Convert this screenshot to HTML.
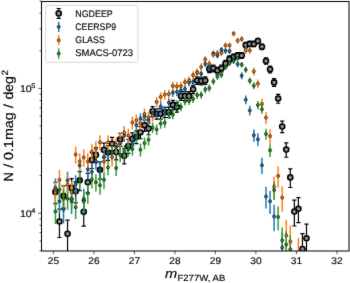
<!DOCTYPE html>
<html><head><meta charset="utf-8"><title>Number counts</title>
<style>
html,body{margin:0;padding:0;background:#fff;}
body{width:350px;height:283px;overflow:hidden;}
svg{display:block;font-family:"Liberation Sans",sans-serif;text-rendering:geometricPrecision;}
text{fill:#000;stroke:#000;stroke-width:0.15px;}
</style></head><body>
<svg width="350" height="283" viewBox="0 0 350 283">
<defs><filter id="soft" x="0" y="0" width="100%" height="100%" filterUnits="userSpaceOnUse" color-interpolation-filters="sRGB"><feConvolveMatrix order="3" kernelMatrix="0.01 0.065 0.01 0.065 0.7 0.065 0.01 0.065 0.01" edgeMode="duplicate" preserveAlpha="true"/></filter><clipPath id="ax"><rect x="41.5" y="1.5" width="307.5" height="249.5"/></clipPath></defs>
<rect x="0" y="0" width="350" height="283" fill="#fff"/>
<g filter="url(#soft)">
<rect x="-5" y="-5" width="360" height="293" fill="#fff"/>
<g clip-path="url(#ax)">
<path d="M55.4 182.26V203.64M59.45 209.15V237.52M63.5 185.92V208.13M67.55 220.14V252.1M71.6 178.58V199.17M75.65 181.61V202.85M79.7 171.56V190.73M83.75 200.31V226.13M87.8 173.41V192.94M91.85 152.66V168.5M95.9 147.87V162.98M99.95 161.81V179.17M104 143.17V157.59M108.05 145.62V160.39M112.1 137.42V151.04M116.15 145.15V159.85M120.2 133.26V146.33M124.25 148.62V163.84M128.3 139.49V153.39M132.35 132.97V146.01M136.4 130.89V143.66M140.45 126.53V138.76M144.5 119.87V131.34M148.55 122.92V134.73M152.6 106.6V116.67M156.65 108.89V119.2M160.7 108.8V119.09M164.75 107.36V117.51M168.8 107.46V117.62M172.85 100.36V109.85M176.9 102.47V112.16M180.95 91.71V100.44M185 91.71V100.44M189.05 91.71V100.44M193.1 85.35V93.56M197.15 76.94V84.52M201.2 77.23V84.83M205.25 76.94V84.52M209.3 65.8V72.61M213.35 65.02V71.79M217.4 67.26V74.16M221.45 65.02V71.79M225.5 60.36V66.83M229.55 55.89V62.09M233.6 54.14V60.23M237.65 52.58V58.59M241.7 52.48V58.48M245.75 42.34V47.79M249.8 41.27V46.67M253.85 41.27V46.67M257.9 38.44V43.69M261.95 44V49.54M266 57.93V64.25M270.05 66V72.82M274.1 78.68V86.39M278.15 94.31V103.26M282.2 121.11V132.71M286.25 142.89V157.26M290.3 168.87V187.52M294.35 200.22V226.01M298.4 197.6V222.68M302.45 233.55V270.68M306.5 224.04V257.41" stroke="#000000" stroke-width="1.2" fill="none"/>
<path d="M53.3 182.26h4.2M53.3 203.64h4.2M57.35 209.15h4.2M57.35 237.52h4.2M61.4 185.92h4.2M61.4 208.13h4.2M65.45 220.14h4.2M65.45 252.1h4.2M69.5 178.58h4.2M69.5 199.17h4.2M73.55 181.61h4.2M73.55 202.85h4.2M77.6 171.56h4.2M77.6 190.73h4.2M81.65 200.31h4.2M81.65 226.13h4.2M85.7 173.41h4.2M85.7 192.94h4.2M89.75 152.66h4.2M89.75 168.5h4.2M93.8 147.87h4.2M93.8 162.98h4.2M97.85 161.81h4.2M97.85 179.17h4.2M101.9 143.17h4.2M101.9 157.59h4.2M105.95 145.62h4.2M105.95 160.39h4.2M110 137.42h4.2M110 151.04h4.2M114.05 145.15h4.2M114.05 159.85h4.2M118.1 133.26h4.2M118.1 146.33h4.2M122.15 148.62h4.2M122.15 163.84h4.2M126.2 139.49h4.2M126.2 153.39h4.2M130.25 132.97h4.2M130.25 146.01h4.2M134.3 130.89h4.2M134.3 143.66h4.2M138.35 126.53h4.2M138.35 138.76h4.2M142.4 119.87h4.2M142.4 131.34h4.2M146.45 122.92h4.2M146.45 134.73h4.2M150.5 106.6h4.2M150.5 116.67h4.2M154.55 108.89h4.2M154.55 119.2h4.2M158.6 108.8h4.2M158.6 119.09h4.2M162.65 107.36h4.2M162.65 117.51h4.2M166.7 107.46h4.2M166.7 117.62h4.2M170.75 100.36h4.2M170.75 109.85h4.2M174.8 102.47h4.2M174.8 112.16h4.2M178.85 91.71h4.2M178.85 100.44h4.2M182.9 91.71h4.2M182.9 100.44h4.2M186.95 91.71h4.2M186.95 100.44h4.2M191 85.35h4.2M191 93.56h4.2M195.05 76.94h4.2M195.05 84.52h4.2M199.1 77.23h4.2M199.1 84.83h4.2M203.15 76.94h4.2M203.15 84.52h4.2M207.2 65.8h4.2M207.2 72.61h4.2M211.25 65.02h4.2M211.25 71.79h4.2M215.3 67.26h4.2M215.3 74.16h4.2M219.35 65.02h4.2M219.35 71.79h4.2M223.4 60.36h4.2M223.4 66.83h4.2M227.45 55.89h4.2M227.45 62.09h4.2M231.5 54.14h4.2M231.5 60.23h4.2M235.55 52.58h4.2M235.55 58.59h4.2M239.6 52.48h4.2M239.6 58.48h4.2M243.65 42.34h4.2M243.65 47.79h4.2M247.7 41.27h4.2M247.7 46.67h4.2M251.75 41.27h4.2M251.75 46.67h4.2M255.8 38.44h4.2M255.8 43.69h4.2M259.85 44h4.2M259.85 49.54h4.2M263.9 57.93h4.2M263.9 64.25h4.2M267.95 66h4.2M267.95 72.82h4.2M272 78.68h4.2M272 86.39h4.2M276.05 94.31h4.2M276.05 103.26h4.2M280.1 121.11h4.2M280.1 132.71h4.2M284.15 142.89h4.2M284.15 157.26h4.2M288.2 168.87h4.2M288.2 187.52h4.2M292.25 200.22h4.2M292.25 226.01h4.2M296.3 197.6h4.2M296.3 222.68h4.2M300.35 233.55h4.2M300.35 270.68h4.2M304.4 224.04h4.2M304.4 257.41h4.2" stroke="#000000" stroke-width="1.2" fill="none"/>
<g fill="#8e8e8e" stroke="#000" stroke-width="1.55"><circle cx="55.4" cy="191.9" r="2.55"/><circle cx="59.45" cy="221.5" r="2.55"/><circle cx="63.5" cy="195.9" r="2.55"/><circle cx="67.55" cy="233.8" r="2.55"/><circle cx="71.6" cy="187.9" r="2.55"/><circle cx="75.65" cy="191.2" r="2.55"/><circle cx="79.7" cy="180.3" r="2.55"/><circle cx="83.75" cy="211.7" r="2.55"/><circle cx="87.8" cy="182.3" r="2.55"/><circle cx="91.85" cy="160" r="2.55"/><circle cx="95.9" cy="154.9" r="2.55"/><circle cx="99.95" cy="169.8" r="2.55"/><circle cx="104" cy="149.9" r="2.55"/><circle cx="108.05" cy="152.5" r="2.55"/><circle cx="112.1" cy="143.8" r="2.55"/><circle cx="116.15" cy="152" r="2.55"/><circle cx="120.2" cy="139.4" r="2.55"/><circle cx="124.25" cy="155.7" r="2.55"/><circle cx="128.3" cy="146" r="2.55"/><circle cx="132.35" cy="139.1" r="2.55"/><circle cx="136.4" cy="136.9" r="2.55"/><circle cx="140.45" cy="132.3" r="2.55"/><circle cx="144.5" cy="125.3" r="2.55"/><circle cx="148.55" cy="128.5" r="2.55"/><circle cx="152.6" cy="111.4" r="2.55"/><circle cx="156.65" cy="113.8" r="2.55"/><circle cx="160.7" cy="113.7" r="2.55"/><circle cx="164.75" cy="112.2" r="2.55"/><circle cx="168.8" cy="112.3" r="2.55"/><circle cx="172.85" cy="104.9" r="2.55"/><circle cx="176.9" cy="107.1" r="2.55"/><circle cx="180.95" cy="95.9" r="2.55"/><circle cx="185" cy="95.9" r="2.55"/><circle cx="189.05" cy="95.9" r="2.55"/><circle cx="193.1" cy="89.3" r="2.55"/><circle cx="197.15" cy="80.6" r="2.55"/><circle cx="201.2" cy="80.9" r="2.55"/><circle cx="205.25" cy="80.6" r="2.55"/><circle cx="209.3" cy="69.1" r="2.55"/><circle cx="213.35" cy="68.3" r="2.55"/><circle cx="217.4" cy="70.6" r="2.55"/><circle cx="221.45" cy="68.3" r="2.55"/><circle cx="225.5" cy="63.5" r="2.55"/><circle cx="229.55" cy="58.9" r="2.55"/><circle cx="233.6" cy="57.1" r="2.55"/><circle cx="237.65" cy="55.5" r="2.55"/><circle cx="241.7" cy="55.4" r="2.55"/><circle cx="245.75" cy="45" r="2.55"/><circle cx="249.8" cy="43.9" r="2.55"/><circle cx="253.85" cy="43.9" r="2.55"/><circle cx="257.9" cy="41" r="2.55"/><circle cx="261.95" cy="46.7" r="2.55"/><circle cx="266" cy="61" r="2.55"/><circle cx="270.05" cy="69.3" r="2.55"/><circle cx="274.1" cy="82.4" r="2.55"/><circle cx="278.15" cy="98.6" r="2.55"/><circle cx="282.2" cy="126.6" r="2.55"/><circle cx="286.25" cy="149.6" r="2.55"/><circle cx="290.3" cy="177.4" r="2.55"/><circle cx="294.35" cy="211.6" r="2.55"/><circle cx="298.4" cy="208.7" r="2.55"/><circle cx="302.45" cy="249" r="2.55"/><circle cx="306.5" cy="238.2" r="2.55"/></g>
<path d="M55.4 178.56V198.71M59.45 191.04V213.96M63.5 198.61V223.41M67.55 171.71V190.51M71.6 191.04V213.96M75.65 175.14V194.6M79.7 157.94V174.29M83.75 188.76V211.14M87.8 161.49V178.43M91.85 163.82V181.17M95.9 153.82V169.51M99.95 161.67V178.65M104 149.78V164.86M108.05 145.83V160.33M112.1 145.65V160.12M116.15 140.84V154.64M120.2 137.25V150.57M124.25 129.67V142.03M128.3 142.54V156.57M132.35 137.15V150.46M136.4 119.78V131M140.45 113.57V124.14M144.5 111.66V122.03M148.55 114.91V125.62M152.6 108.22V118.25M156.65 108.22V118.25M160.7 101.98V111.43M164.75 106.3V116.15M168.8 98.24V107.35M172.85 88.61V96.91M176.9 87.74V95.97M180.95 86.39V94.52M185 85.04V93.06M189.05 78.95V86.52M193.1 78.27V85.79M197.15 69.16V76.06M201.2 70.42V77.4M205.25 60.71V67.07M209.3 64.41V70.99M213.35 50.59V56.37M217.4 52.54V58.42M221.45 46.98V52.56M225.5 48.05V53.69M229.55 48.25V53.9M233.6 56.04V62.13M237.65 60.91V67.28M241.7 72.27V79.37M245.75 95.45V104.32M249.8 105.72V115.52M253.85 129.48V141.82M257.9 133.27V146.08M261.95 157.75V174.07M266 186.65V208.55M270.05 191.04V213.96M274.1 204.76V231.23M282.2 232.58V268.44" stroke="#1f77b4" stroke-width="1.5" fill="none"/>
<path d="M55.4 181.78V206.14M59.45 169.99V191.54M63.5 185.14V210.37M67.55 174.48V197.05M71.6 181.23V205.45M75.65 146.66V163.66M79.7 153.18V171.33M83.75 149.37V166.83M87.8 153.18V171.33M91.85 144.14V160.72M95.9 141.25V157.34M99.95 135.25V150.41M104 153.09V171.22M108.05 135.25V150.41M112.1 149.09V166.51M116.15 137.4V152.9M120.2 132.62V147.39M124.25 126.02V139.86M128.3 128.85V143.08M132.35 116.56V129.17M136.4 114.47V126.83M140.45 117.23V129.92M144.5 108.58V120.24M148.55 111.82V123.85M152.6 109.91V121.73M156.65 96.94V107.36M160.7 92.16V102.1M164.75 89.95V99.68M168.8 89.38V99.05M172.85 81.6V90.57M176.9 81.98V90.99M180.95 81.79V90.78M185 77.94V86.61M189.05 76.21V84.73M193.1 71.19V79.31M197.15 68.49V76.4M201.2 63.36V70.9M205.25 56V63.03M209.3 60.27V67.58M213.35 51.34V58.06M217.4 49.98V56.62M221.45 49.69V56.31M225.5 42.4V48.57M229.55 42.4V48.57M233.6 30.9V36.44M237.65 37.83V43.74M241.7 36.17V41.99M245.75 47.26V53.73M249.8 47.26V53.73M253.85 67.62V75.47M257.9 79.38V88.17M261.95 98.86V109.46M266 111.91V123.96M270.05 129.42V143.73M274.1 176.4V199.43M278.15 166.59V187.4M282.2 186.32V211.87M286.25 220.03V256.94M290.3 225.44V264.72M298.4 237.9V283.37" stroke="#ff7f0e" stroke-width="1.5" fill="none"/>
<path d="M55.4 201.38V223.95M59.45 181.2V199.55M63.5 189.53V209.5M67.55 189.71V209.73M71.6 189.62V209.61M75.65 197.44V219.11M79.7 172.54V189.36M83.75 192.11V212.62M87.8 184.63V203.63M91.85 171.79V188.49M95.9 174.31V191.43M99.95 177.11V194.72M104 171.98V188.71M108.05 160.46V175.37M112.1 146.12V159.05M116.15 161.02V176.01M120.2 148.67V161.94M124.25 145.36V158.2M128.3 142.7V155.22M132.35 143.18V155.75M136.4 131.86V143.12M140.45 143.75V156.39M144.5 137.48V149.37M148.55 134.34V145.87M152.6 122.79V133.1M156.65 124.42V134.89M160.7 118.87V128.79M164.75 118V127.84M168.8 109.65V118.73M172.85 110.23V119.35M176.9 100.31V108.61M180.95 102.82V111.32M185 97.51V105.59M189.05 97.03V105.07M193.1 95.1V102.99M197.15 91.42V99.04M201.2 91.13V98.73M205.25 85.91V93.13M209.3 84.55V91.68M213.35 78.15V84.86M217.4 73.48V79.91M221.45 71.73V78.05M225.5 64.14V70.02M229.55 60.24V65.91M233.6 58.39V63.95M237.65 55.36V60.77M241.7 61.9V67.65M245.75 66.77V72.8M249.8 77.47V84.14M253.85 82.32V89.3M257.9 100.99V109.34M261.95 105.13V113.82M266 128.72V139.63M270.05 144.32V157.03M274.1 181.57V199.99M278.15 206.4V230.18M282.2 227.53V257.3M286.25 231.28V262.29M290.3 235.46V267.93" stroke="#2ca02c" stroke-width="1.5" fill="none"/>
<g fill="#1f77b4" stroke="#000" stroke-width="0.65"><circle cx="55.4" cy="187.7" r="1.5"/><circle cx="59.45" cy="201.3" r="1.5"/><circle cx="63.5" cy="209.6" r="1.5"/><circle cx="67.55" cy="180.3" r="1.5"/><circle cx="71.6" cy="201.3" r="1.5"/><circle cx="75.65" cy="184" r="1.5"/><circle cx="79.7" cy="165.5" r="1.5"/><circle cx="83.75" cy="198.8" r="1.5"/><circle cx="87.8" cy="169.3" r="1.5"/><circle cx="91.85" cy="171.8" r="1.5"/><circle cx="95.9" cy="161.1" r="1.5"/><circle cx="99.95" cy="169.5" r="1.5"/><circle cx="104" cy="156.8" r="1.5"/><circle cx="108.05" cy="152.6" r="1.5"/><circle cx="112.1" cy="152.4" r="1.5"/><circle cx="116.15" cy="147.3" r="1.5"/><circle cx="120.2" cy="143.5" r="1.5"/><circle cx="124.25" cy="135.5" r="1.5"/><circle cx="128.3" cy="149.1" r="1.5"/><circle cx="132.35" cy="143.4" r="1.5"/><circle cx="136.4" cy="125.1" r="1.5"/><circle cx="140.45" cy="118.6" r="1.5"/><circle cx="144.5" cy="116.6" r="1.5"/><circle cx="148.55" cy="120" r="1.5"/><circle cx="152.6" cy="113" r="1.5"/><circle cx="156.65" cy="113" r="1.5"/><circle cx="160.7" cy="106.5" r="1.5"/><circle cx="164.75" cy="111" r="1.5"/><circle cx="168.8" cy="102.6" r="1.5"/><circle cx="172.85" cy="92.6" r="1.5"/><circle cx="176.9" cy="91.7" r="1.5"/><circle cx="180.95" cy="90.3" r="1.5"/><circle cx="185" cy="88.9" r="1.5"/><circle cx="189.05" cy="82.6" r="1.5"/><circle cx="193.1" cy="81.9" r="1.5"/><circle cx="197.15" cy="72.5" r="1.5"/><circle cx="201.2" cy="73.8" r="1.5"/><circle cx="205.25" cy="63.8" r="1.5"/><circle cx="209.3" cy="67.6" r="1.5"/><circle cx="213.35" cy="53.4" r="1.5"/><circle cx="217.4" cy="55.4" r="1.5"/><circle cx="221.45" cy="49.7" r="1.5"/><circle cx="225.5" cy="50.8" r="1.5"/><circle cx="229.55" cy="51" r="1.5"/><circle cx="233.6" cy="59" r="1.5"/><circle cx="237.65" cy="64" r="1.5"/><circle cx="241.7" cy="75.7" r="1.5"/><circle cx="245.75" cy="99.7" r="1.5"/><circle cx="249.8" cy="110.4" r="1.5"/><circle cx="253.85" cy="135.3" r="1.5"/><circle cx="257.9" cy="139.3" r="1.5"/><circle cx="261.95" cy="165.3" r="1.5"/><circle cx="266" cy="196.5" r="1.5"/><circle cx="270.05" cy="201.3" r="1.5"/><circle cx="274.1" cy="216.4" r="1.5"/><circle cx="282.2" cy="247.6" r="1.5"/></g>
<g fill="#ff7f0e" stroke="#000" stroke-width="0.65"><circle cx="55.4" cy="192.6" r="1.5"/><circle cx="59.45" cy="179.7" r="1.5"/><circle cx="63.5" cy="196.3" r="1.5"/><circle cx="67.55" cy="184.6" r="1.5"/><circle cx="71.6" cy="192" r="1.5"/><circle cx="75.65" cy="154.5" r="1.5"/><circle cx="79.7" cy="161.5" r="1.5"/><circle cx="83.75" cy="157.4" r="1.5"/><circle cx="87.8" cy="161.5" r="1.5"/><circle cx="91.85" cy="151.8" r="1.5"/><circle cx="95.9" cy="148.7" r="1.5"/><circle cx="99.95" cy="142.3" r="1.5"/><circle cx="104" cy="161.4" r="1.5"/><circle cx="108.05" cy="142.3" r="1.5"/><circle cx="112.1" cy="157.1" r="1.5"/><circle cx="116.15" cy="144.6" r="1.5"/><circle cx="120.2" cy="139.5" r="1.5"/><circle cx="124.25" cy="132.5" r="1.5"/><circle cx="128.3" cy="135.5" r="1.5"/><circle cx="132.35" cy="122.5" r="1.5"/><circle cx="136.4" cy="120.3" r="1.5"/><circle cx="140.45" cy="123.2" r="1.5"/><circle cx="144.5" cy="114.1" r="1.5"/><circle cx="148.55" cy="117.5" r="1.5"/><circle cx="152.6" cy="115.5" r="1.5"/><circle cx="156.65" cy="101.9" r="1.5"/><circle cx="160.7" cy="96.9" r="1.5"/><circle cx="164.75" cy="94.6" r="1.5"/><circle cx="168.8" cy="94" r="1.5"/><circle cx="172.85" cy="85.9" r="1.5"/><circle cx="176.9" cy="86.3" r="1.5"/><circle cx="180.95" cy="86.1" r="1.5"/><circle cx="185" cy="82.1" r="1.5"/><circle cx="189.05" cy="80.3" r="1.5"/><circle cx="193.1" cy="75.1" r="1.5"/><circle cx="197.15" cy="72.3" r="1.5"/><circle cx="201.2" cy="67" r="1.5"/><circle cx="205.25" cy="59.4" r="1.5"/><circle cx="209.3" cy="63.8" r="1.5"/><circle cx="213.35" cy="54.6" r="1.5"/><circle cx="217.4" cy="53.2" r="1.5"/><circle cx="221.45" cy="52.9" r="1.5"/><circle cx="225.5" cy="45.4" r="1.5"/><circle cx="229.55" cy="45.4" r="1.5"/><circle cx="233.6" cy="33.6" r="1.5"/><circle cx="237.65" cy="40.7" r="1.5"/><circle cx="241.7" cy="39" r="1.5"/><circle cx="245.75" cy="50.4" r="1.5"/><circle cx="249.8" cy="50.4" r="1.5"/><circle cx="253.85" cy="71.4" r="1.5"/><circle cx="257.9" cy="83.6" r="1.5"/><circle cx="261.95" cy="103.9" r="1.5"/><circle cx="266" cy="117.6" r="1.5"/><circle cx="270.05" cy="136.1" r="1.5"/><circle cx="274.1" cy="186.7" r="1.5"/><circle cx="278.15" cy="176" r="1.5"/><circle cx="282.2" cy="197.6" r="1.5"/><circle cx="286.25" cy="235.4" r="1.5"/><circle cx="290.3" cy="241.6" r="1.5"/><circle cx="298.4" cy="256" r="1.5"/></g>
<g fill="#2ca02c" stroke="#000" stroke-width="0.65"><circle cx="55.4" cy="211.5" r="1.5"/><circle cx="59.45" cy="189.6" r="1.5"/><circle cx="63.5" cy="198.6" r="1.5"/><circle cx="67.55" cy="198.8" r="1.5"/><circle cx="71.6" cy="198.7" r="1.5"/><circle cx="75.65" cy="207.2" r="1.5"/><circle cx="79.7" cy="180.3" r="1.5"/><circle cx="83.75" cy="201.4" r="1.5"/><circle cx="87.8" cy="193.3" r="1.5"/><circle cx="91.85" cy="179.5" r="1.5"/><circle cx="95.9" cy="182.2" r="1.5"/><circle cx="99.95" cy="185.2" r="1.5"/><circle cx="104" cy="179.7" r="1.5"/><circle cx="108.05" cy="167.4" r="1.5"/><circle cx="112.1" cy="152.2" r="1.5"/><circle cx="116.15" cy="168" r="1.5"/><circle cx="120.2" cy="154.9" r="1.5"/><circle cx="124.25" cy="151.4" r="1.5"/><circle cx="128.3" cy="148.6" r="1.5"/><circle cx="132.35" cy="149.1" r="1.5"/><circle cx="136.4" cy="137.2" r="1.5"/><circle cx="140.45" cy="149.7" r="1.5"/><circle cx="144.5" cy="143.1" r="1.5"/><circle cx="148.55" cy="139.8" r="1.5"/><circle cx="152.6" cy="127.7" r="1.5"/><circle cx="156.65" cy="129.4" r="1.5"/><circle cx="160.7" cy="123.6" r="1.5"/><circle cx="164.75" cy="122.7" r="1.5"/><circle cx="168.8" cy="114" r="1.5"/><circle cx="172.85" cy="114.6" r="1.5"/><circle cx="176.9" cy="104.3" r="1.5"/><circle cx="180.95" cy="106.9" r="1.5"/><circle cx="185" cy="101.4" r="1.5"/><circle cx="189.05" cy="100.9" r="1.5"/><circle cx="193.1" cy="98.9" r="1.5"/><circle cx="197.15" cy="95.1" r="1.5"/><circle cx="201.2" cy="94.8" r="1.5"/><circle cx="205.25" cy="89.4" r="1.5"/><circle cx="209.3" cy="88" r="1.5"/><circle cx="213.35" cy="81.4" r="1.5"/><circle cx="217.4" cy="76.6" r="1.5"/><circle cx="221.45" cy="74.8" r="1.5"/><circle cx="225.5" cy="67" r="1.5"/><circle cx="229.55" cy="63" r="1.5"/><circle cx="233.6" cy="61.1" r="1.5"/><circle cx="237.65" cy="58" r="1.5"/><circle cx="241.7" cy="64.7" r="1.5"/><circle cx="245.75" cy="69.7" r="1.5"/><circle cx="249.8" cy="80.7" r="1.5"/><circle cx="253.85" cy="85.7" r="1.5"/><circle cx="257.9" cy="105" r="1.5"/><circle cx="261.95" cy="109.3" r="1.5"/><circle cx="266" cy="133.9" r="1.5"/><circle cx="270.05" cy="150.3" r="1.5"/><circle cx="274.1" cy="190" r="1.5"/><circle cx="278.15" cy="217" r="1.5"/><circle cx="282.2" cy="240.4" r="1.5"/><circle cx="286.25" cy="244.6" r="1.5"/><circle cx="290.3" cy="249.3" r="1.5"/></g>
</g>
<rect x="41.5" y="1.5" width="307.5" height="249.5" fill="none" stroke="#000" stroke-width="1"/>
<path d="M53.4 251v3.2M93.9 251v3.2M134.4 251v3.2M174.9 251v3.2M215.4 251v3.2M255.9 251v3.2M296.4 251v3.2M336.9 251v3.2M41.5 213.25h-3.4M41.5 88.4h-3.4M41.5 250.83h-2M41.5 240.95h-2M41.5 232.59h-2M41.5 225.35h-2M41.5 218.96h-2M41.5 175.67h-2M41.5 153.68h-2M41.5 138.08h-2M41.5 125.98h-2M41.5 116.1h-2M41.5 107.74h-2M41.5 100.5h-2M41.5 94.11h-2M41.5 50.82h-2M41.5 28.83h-2M41.5 13.23h-2M41.5 1.13h-2" stroke="#000" stroke-width="0.65" fill="none"/>
<text transform="translate(47.74 264.40) scale(1.0482 1)" font-size="9.71">25</text><text transform="translate(88.24 264.40) scale(1.0482 1)" font-size="9.71">26</text><text transform="translate(128.74 264.40) scale(1.0482 1)" font-size="9.71">27</text><text transform="translate(169.24 264.40) scale(1.0482 1)" font-size="9.71">28</text><text transform="translate(209.74 264.40) scale(1.0482 1)" font-size="9.71">29</text><text transform="translate(250.24 264.40) scale(1.0482 1)" font-size="9.71">30</text><text transform="translate(290.74 264.40) scale(1.0482 1)" font-size="9.71">31</text><text transform="translate(331.24 264.40) scale(1.0482 1)" font-size="9.71">32</text>
<text transform="translate(19.90 91.70) scale(1.0953 1)" font-size="9.71">10</text><text transform="translate(31.20 88.10) scale(1.0953 1)" font-size="6.80">5</text><text transform="translate(19.90 216.55) scale(1.0953 1)" font-size="9.71">10</text><text transform="translate(31.20 212.95) scale(1.0953 1)" font-size="6.80">4</text>
<text transform="translate(12.90 181.40) rotate(-90) scale(0.9776 1)" font-size="13.24">N</text><text transform="translate(12.90 168.08) rotate(-90) scale(1.1445 1)" font-size="13.24">/</text><text transform="translate(12.90 159.89) rotate(-90) scale(1.0797 1)" font-size="13.24">0.1</text><text transform="translate(12.90 140.01) rotate(-90) scale(1.0778 1)" font-size="13.24">mag</text><text transform="translate(12.90 108.26) rotate(-90) scale(1.1445 1)" font-size="13.24">/</text><text transform="translate(12.90 99.58) rotate(-90) scale(1.0661 1)" font-size="13.24">deg</text><text transform="translate(7.60 75.61) rotate(-90) scale(1.0953 1)" font-size="9.14">2</text>
<text transform="translate(165.10 278.40) scale(1.1072 1)" font-size="13.20" font-style="italic">m</text><text transform="translate(177.40 281.00) scale(1.0486 1)" font-size="9.14">F277W, AB</text>
<!-- legend -->
<rect x="45.7" y="5.4" width="92.2" height="56.9" rx="1.7" fill="#fff" fill-opacity="0.8" stroke="#ccc" stroke-width="0.8"/>
<path d="M58.7 8.5V18.3M56.6 8.5h4.2M56.6 18.3h4.2" stroke="#000" stroke-width="1.2" fill="none"/>
<circle cx="58.7" cy="13.4" r="2.55" fill="#8e8e8e" stroke="#000" stroke-width="1.55"/>
<path d="M58.7 21.7V32" stroke="#1f77b4" stroke-width="1.5"/><circle cx="58.7" cy="26.85" r="1.5" fill="#1f77b4" stroke="#000" stroke-width="0.65"/>
<path d="M58.7 35V45.3" stroke="#ff7f0e" stroke-width="1.5"/><circle cx="58.7" cy="40.15" r="1.5" fill="#ff7f0e" stroke="#000" stroke-width="0.65"/>
<path d="M58.7 48.4V58.7" stroke="#2ca02c" stroke-width="1.5"/><circle cx="58.7" cy="53.55" r="1.5" fill="#2ca02c" stroke="#000" stroke-width="0.65"/>
<text transform="translate(75.30 16.50) scale(0.9296 1)" font-size="9.54">NGDEEP</text><text transform="translate(75.30 29.80) scale(0.9159 1)" font-size="9.54">CEERSP9</text><text transform="translate(75.30 43.10) scale(0.9298 1)" font-size="9.54">GLASS</text><text transform="translate(75.30 56.40) scale(0.9911 1)" font-size="9.54">SMACS-0723</text>
</g>
</svg>
</body></html>
